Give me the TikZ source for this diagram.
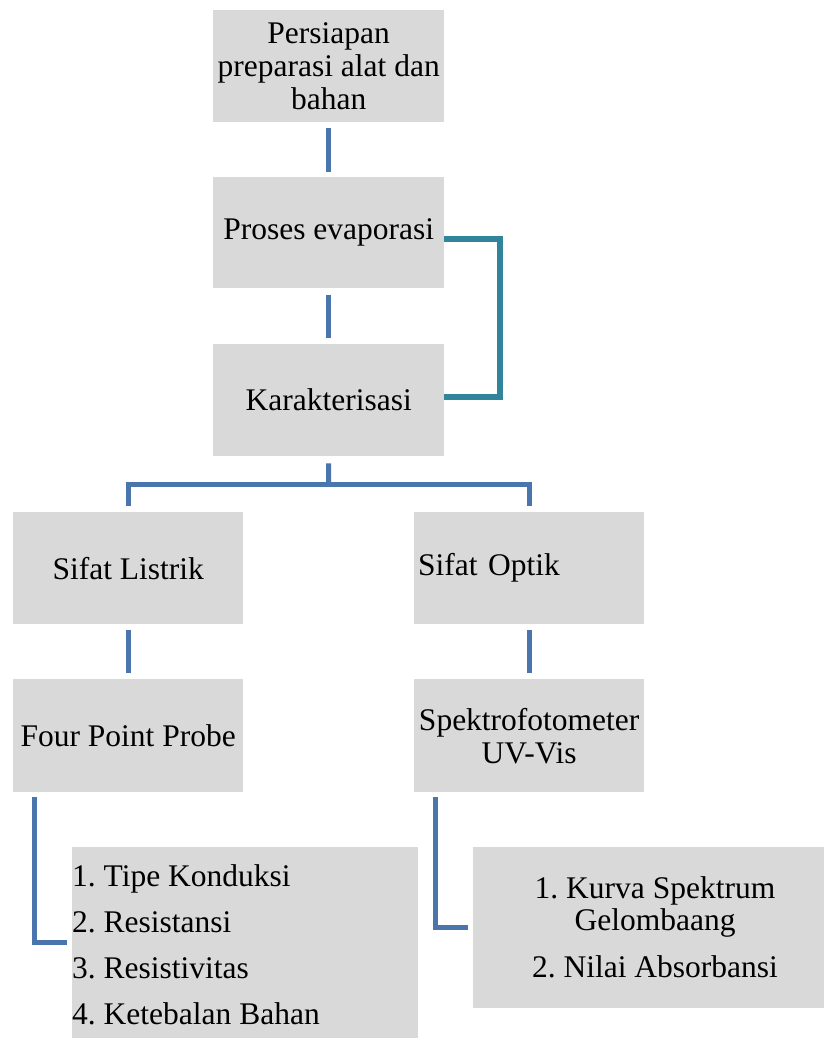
\documentclass[tikz,border=0pt]{standalone}
\usepackage{fontspec}
\setmainfont{Liberation Serif}
\frenchspacing
\definecolor{boxgray}{RGB}{217,217,217}
\definecolor{connblue}{RGB}{74,118,173}
\definecolor{connteal}{RGB}{49,133,155}
\begin{document}
\begin{tikzpicture}[x=1pt,y=-1pt,
  box/.style={fill=boxgray, draw=none, inner sep=0pt, anchor=north west,
              font=\fontsize{31.5}{33}\selectfont, align=center},
  conn/.style={draw=connblue, line width=5pt},
  loopline/.style={draw=connteal, line width=6pt},
  item/.style={font=\fontsize{31.5}{33}\selectfont, inner sep=0pt}]
\useasboundingbox[fill=white] (0,0) rectangle (824,1038);

\node[box, minimum width=231pt, minimum height=112pt] (b1) at (213,10) {Persiapan\\preparasi alat dan\\bahan};
\node[box, minimum width=231pt, minimum height=111pt] (b2) at (213,177) {Proses evaporasi};
\node[box, minimum width=231pt, minimum height=112pt] (b3) at (213,344) {Karakterisasi};

\node[box, minimum width=230pt, minimum height=112pt] (listrik) at (13,512) {Sifat Listrik};
\node[box, minimum width=230pt, minimum height=112pt, align=left, text width=222pt, inner xsep=4pt] (optik) at (414,512) {Sifat Optik};

\node[box, minimum width=230pt, minimum height=113pt] (fpp) at (13,679) {Four Point Probe};
\node[box, minimum width=230pt, minimum height=113pt] (spek) at (414,679) {Spektrofotometer\\UV-Vis};

\node[box, minimum width=346pt, minimum height=191pt] (list1) at (72,847) {};
\node[box, minimum width=351pt, minimum height=161pt] (list2) at (473,847) {};

\node[item, anchor=base west] (l1a) at (72,886) {1. Tipe Konduksi};
\node[item, anchor=base west] (l1b) at (72,932) {2. Resistansi};
\node[item, anchor=base west] (l1c) at (72,978) {3. Resistivitas};
\node[item, anchor=base west] (l1d) at (72,1024) {4. Ketebalan Bahan};

\node[item, anchor=base] (l2a) at (655,898) {1. Kurva Spektrum};
\node[item, anchor=base] (l2b) at (655,930) {Gelombaang};
\node[item, anchor=base] (l2c) at (655,977) {2. Nilai Absorbansi};

\draw[conn, shorten <=6pt, shorten >=5pt] (b1) -- (b2);
\draw[conn, shorten <=7pt, shorten >=6pt] (b2) -- (b3);
\coordinate (j) at (328.5,484);
\draw[conn, shorten <=7pt] (b3.south) -- (j);
\draw[conn, shorten <=6pt, shorten >=6pt] (listrik.north) |- (j) -| (optik.north);
\draw[conn, shorten <=6pt, shorten >=6pt] (listrik) -- (fpp);
\draw[conn, shorten <=6pt, shorten >=6pt] (optik) -- (spek);
\draw[conn, shorten <=5pt, shorten >=5pt] ([xshift=21pt]fpp.south west) |- (list1.west);
\draw[conn, shorten <=5pt, shorten >=5pt] ([xshift=21pt]spek.south west) |- (list2.west);
\draw[loopline] ([yshift=-6.5pt]b2.east) -- ++(56,0) |- ([yshift=3pt]b3.east);
\end{tikzpicture}
\end{document}
